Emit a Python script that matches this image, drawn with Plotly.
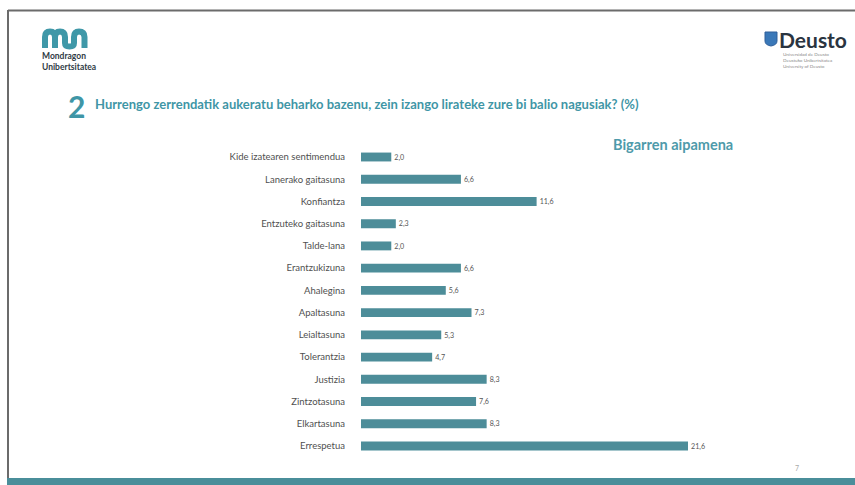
import plotly.graph_objects as go

categories = ["Kide izatearen sentimendua", "Lanerako gaitasuna", "Konfiantza",
              "Entzuteko gaitasuna", "Talde-lana", "Erantzukizuna", "Ahalegina",
              "Apaltasuna", "Leialtasuna", "Tolerantzia", "Justizia",
              "Zintzotasuna", "Elkartasuna", "Errespetua"]
values = [2.0, 6.6, 11.6, 2.3, 2.0, 6.6, 5.6, 7.3, 5.3, 4.7, 8.3, 7.6, 8.3, 21.6]

W, H = 855, 485
TEAL = "#4D8D99"

def px(x):
    return x / W

def py(y):
    return 1 - y / H

fig = go.Figure(go.Bar(
    x=values, y=categories, orientation="h",
    marker=dict(color=TEAL, line=dict(width=0)),
    width=0.4,
    text=values, texttemplate="%{x:.1f}", textposition="outside",
    textfont=dict(family="Lato, sans-serif", size=8, color="#555555"),
    cliponaxis=False, hoverinfo="skip",
))

x_max = 22.4
unit_px = (688 - 361) / 21.6
fig.update_xaxes(domain=[px(361), px(361 + x_max * unit_px)], range=[0, x_max],
                 visible=False, showgrid=False, zeroline=False)
row = (446 - 157) / 13
fig.update_yaxes(domain=[py(446 + row / 2), py(157 - row / 2)],
                 categoryorder="array", categoryarray=categories,
                 autorange="reversed", showgrid=False, zeroline=False, showline=False,
                 ticks="", ticklabelstandoff=15,
                 tickfont=dict(family="Lato, sans-serif", size=9.5, color="#505050"))

def P(x, y):
    return f"{px(x):.5f},{py(y):.5f}"

shapes = []
# slide frame
shapes.append(dict(type="line", xref="paper", yref="paper", x0=px(8), x1=1.0, y0=py(10.5), y1=py(10.5),
                   line=dict(color="#6b6b6b", width=2)))
shapes.append(dict(type="line", xref="paper", yref="paper", x0=px(8), x1=px(8), y0=py(10), y1=py(478),
                   line=dict(color="#6b6b6b", width=2)))
# bottom band
shapes.append(dict(type="rect", xref="paper", yref="paper", x0=px(7), x1=1.0, y0=0, y1=py(478),
                   fillcolor="#4A8E9A", line=dict(width=0)))

# Mondragon logo (wavy mark)
path = (f"M {P(45,48)} L {P(45,37)} Q {P(45,31.5)} {P(50,31.5)} Q {P(55,31.5)} {P(55,37)} L {P(55,48)} "
        f"M {P(55,37)} Q {P(55,31.5)} {P(60,31.5)} Q {P(65,31.5)} {P(65,37)} L {P(65,43)} "
        f"Q {P(65,46.5)} {P(69.5,46.5)} Q {P(74,46.5)} {P(74,43)} L {P(74,37)} "
        f"Q {P(74,31.5)} {P(79,31.5)} Q {P(84.5,31.5)} {P(84.5,37)} L {P(84.5,48)}")
shapes.append(dict(type="path", xref="paper", yref="paper", path=path,
                   line=dict(color="#3F98A8", width=6)))
# Deusto shield
shapes.append(dict(type="path", xref="paper", yref="paper",
                   path=f"M {P(765,32)} L {P(777,32)} L {P(777,41)} Q {P(777,45)} {P(771,46)} Q {P(765,45)} {P(765,41)} Z",
                   fillcolor="#3A78B8", line=dict(color="#2F5F9A", width=1)))

def ann(x, y, text, size, color, xanchor="left", align="left"):
    return dict(x=px(x), y=py(y), xref="paper", yref="paper", text=text, showarrow=False,
                xanchor=xanchor, yanchor="middle", align=align,
                font=dict(family="Lato, sans-serif", size=size, color=color))

annotations = [
    ann(40, 61.5, "<b>Mondragon</b><br><b>Unibertsitatea</b>", 8.5, "#2f3b45"),
    ann(777, 39, "<b>Deusto</b>", 21, "#2a3440"),
    ann(781, 60, "Universidad de Deusto<br>Deustuko Unibertsitatea<br>University of Deusto", 4.6, "#8a8a8a"),
    ann(66, 106, "<b>2</b>", 30, "#3F96A6"),
    ann(93, 104, "<b>Hurrengo zerrendatik aukeratu beharko bazenu, zein izango lirateke zure bi balio nagusiak? (%)</b>",
        13, "#3F96A6"),
    ann(611, 144, "<b>Bigarren aipamena</b>", 14.5, "#4E9AAA"),
    ann(797, 468, "7", 7, "#aaaaaa", "center"),
]

fig.update_layout(width=W, height=H, margin=dict(l=0, r=0, t=0, b=0),
                  paper_bgcolor="white", plot_bgcolor="white", showlegend=False,
                  separators=",.", shapes=shapes, annotations=annotations)

fig.write_html("out.html", config={"displayModeBar": False},
               post_script="document.body.style.margin='0';")
